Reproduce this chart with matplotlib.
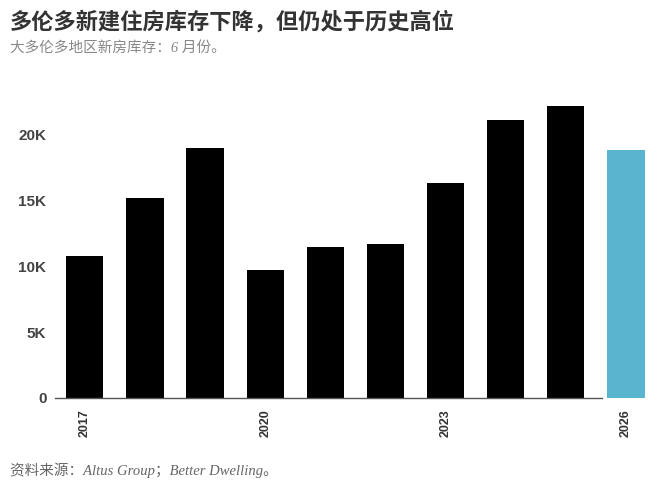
import numpy as np
import matplotlib.pyplot as plt

plt.rcParams['font.family'] = ['Liberation Sans', 'Noto Sans CJK SC', 'DejaVu Sans']

# June new-home inventory, Greater Toronto Area
years = [2017, 2018, 2019, 2020, 2021, 2022, 2023, 2024, 2025, 2026]
inventory = [10.75, 15.15, 18.95, 9.7, 11.45, 11.65, 16.3, 21.1, 22.15, 18.8]
bar_colors = ['#000000'] * 9 + ['#58b4cf']
tick_years = [2017, 2020, 2023, 2026]
y_ticks = [0, 5, 10, 15, 20]
y_labels = ['0', '5K', '10K', '15K', '20K']

fig = plt.figure(figsize=(6.6, 4.84), dpi=100)
ax = fig.add_axes([0.083, 0.178, 0.911, 0.653])

x = np.arange(len(years))
ax.bar(x, inventory, width=0.62, color=bar_colors, zorder=2)

ax.set_xlim(-0.5, len(years) - 0.5)
ax.set_ylim(0, 24)

ax.set_yticks(y_ticks)
ax.set_yticklabels(y_labels, fontsize=11, fontweight='bold', color='#444444')
ax.set_xticks([years.index(y) for y in tick_years])
ax.set_xticklabels([str(y) for y in tick_years], rotation=90, fontsize=9,
                   fontweight='bold', color='#333333', va='top')
ax.tick_params(axis='both', length=0)
ax.tick_params(axis='y', pad=6)
ax.tick_params(axis='x', pad=8)

for s in ax.spines.values():
    s.set_visible(False)
# baseline stops before the forecast bar
ax.plot([-0.5, 8.6], [0, 0], color='#555555', lw=1, zorder=3, clip_on=False)

fig.text(0.015, 0.955, '多伦多新建住房库存下降，但仍处于历史高位',
         fontsize=16, fontweight='bold', color='#333333',
         family=['Noto Sans CJK SC', 'DejaVu Sans'], va='center')
fig.text(0.015, 0.9, '大多伦多地区新房库存：6 月份。',
         fontsize=10.5, color='#888888', style='italic',
         family=['Liberation Serif', 'Noto Sans CJK SC'], va='center')
fig.text(0.015, 0.028, '资料来源：Altus Group；Better Dwelling。',
         fontsize=10.5, color='#666666', style='italic',
         family=['Liberation Serif', 'Noto Sans CJK SC'], va='center')

plt.savefig('out.png', dpi=100)
